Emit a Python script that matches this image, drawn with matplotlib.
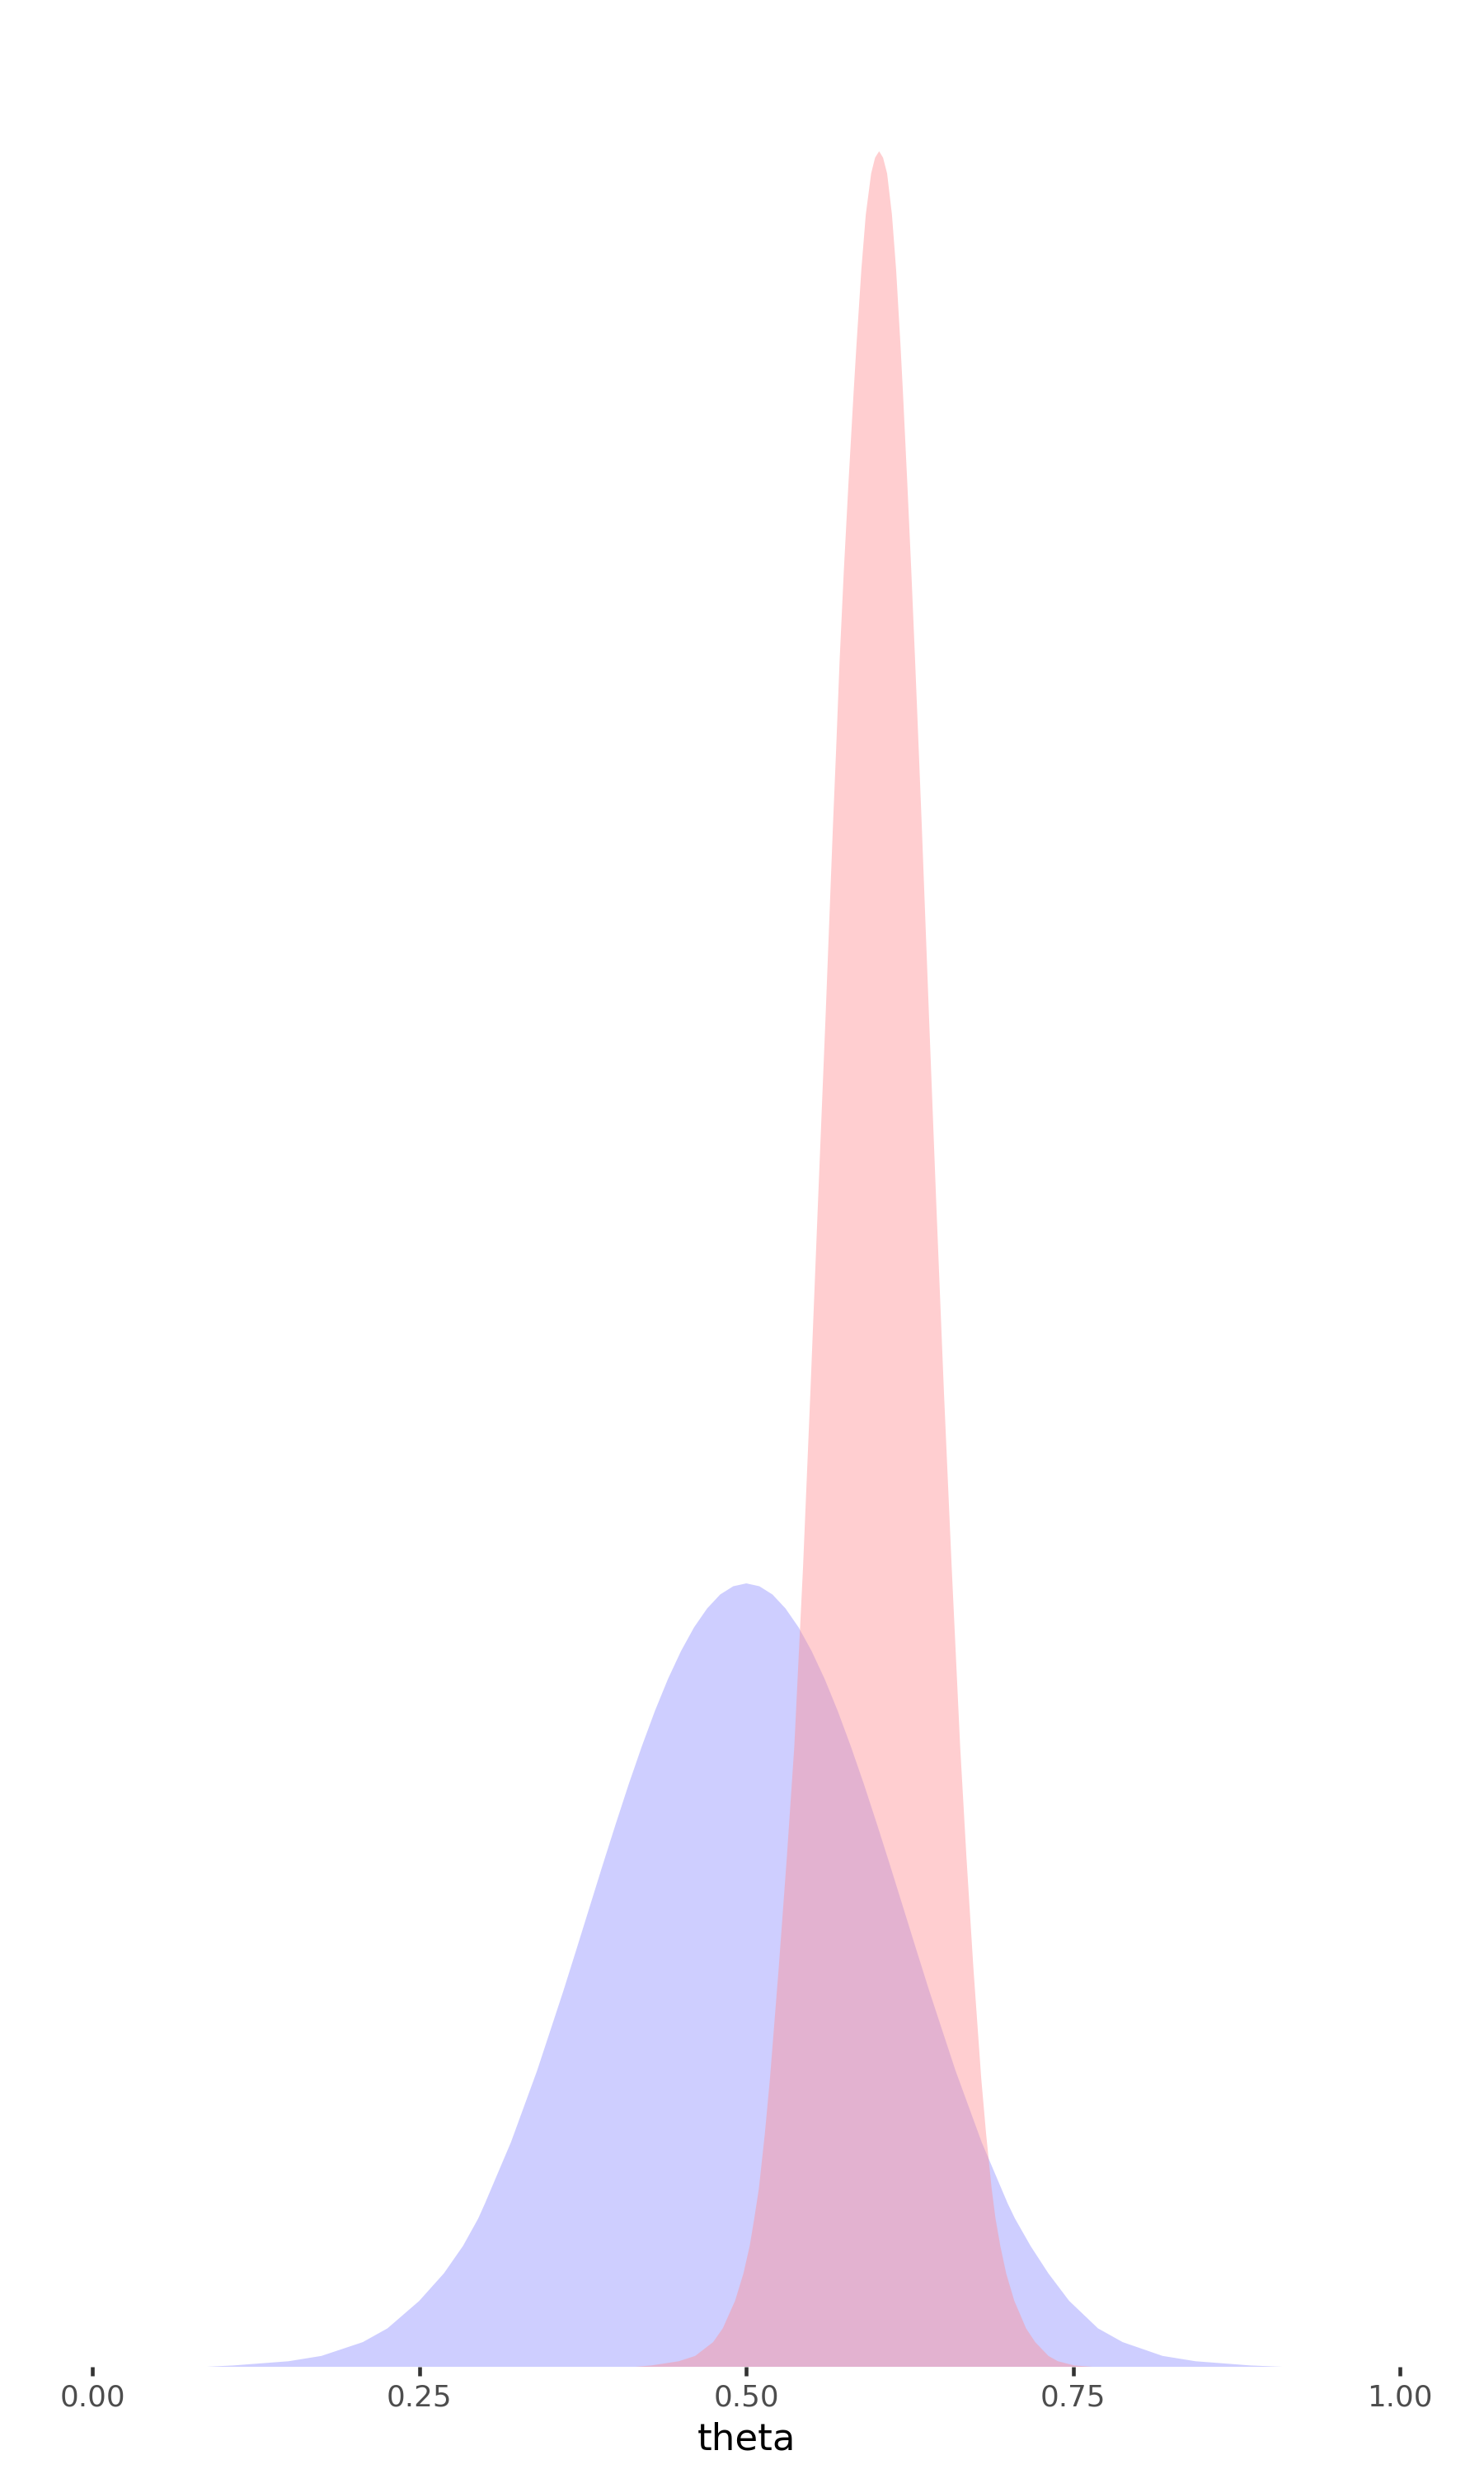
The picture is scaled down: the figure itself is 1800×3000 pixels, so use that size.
import matplotlib
matplotlib.use("Agg")
import matplotlib.pyplot as plt

# ---- data ----
# prior (blue) density
theta_prior = [0.087, 0.1075, 0.1498, 0.175, 0.2066, 0.2255, 0.2497, 0.2686, 0.2833,
               0.2949, 0.30, 0.32, 0.34, 0.36, 0.37, 0.38, 0.39, 0.40, 0.41, 0.42,
               0.43, 0.44, 0.45, 0.46, 0.47, 0.48, 0.49, 0.50, 0.51, 0.52, 0.53,
               0.54, 0.55, 0.56, 0.57, 0.58, 0.59, 0.60, 0.61, 0.62, 0.63, 0.64,
               0.66, 0.68, 0.70, 0.7055, 0.7174, 0.7311, 0.7469, 0.7690, 0.7879,
               0.8184, 0.8436, 0.8857, 0.910]
density_prior = [0.000, 0.006, 0.025, 0.049, 0.111, 0.173, 0.296, 0.420, 0.544,
                 0.667, 0.734, 1.011, 1.333, 1.690, 1.877, 2.066, 2.255, 2.440, 2.620, 2.790,
                 2.949, 3.093, 3.219, 3.326, 3.411, 3.474, 3.511, 3.524, 3.511, 3.474, 3.411,
                 3.326, 3.219, 3.093, 2.949, 2.790, 2.620, 2.440, 2.255, 2.066, 1.877, 1.690,
                 1.333, 1.011, 0.734, 0.667, 0.544, 0.420, 0.297, 0.173, 0.111,
                 0.049, 0.025, 0.006, 0.000]

# posterior (red) density
theta_post = [0.4150, 0.4273, 0.4483, 0.4609, 0.4746, 0.4820, 0.4914, 0.4978, 0.5026,
              0.5061, 0.5096, 0.5142, 0.5181, 0.5248, 0.5310, 0.5367, 0.5434, 0.5490,
              0.5548, 0.5607, 0.5663, 0.5687, 0.5714, 0.5746, 0.5782, 0.5821, 0.5842,
              0.5880, 0.5914, 0.5955, 0.5985, 0.6016, 0.6046, 0.6077, 0.6114, 0.6146,
              0.6180, 0.6198, 0.6231, 0.6262, 0.6291, 0.6319, 0.6342, 0.6397, 0.6453,
              0.6512, 0.6571, 0.6636, 0.6684, 0.6737, 0.6797, 0.6834, 0.6877, 0.6906,
              0.6943, 0.6988, 0.7050, 0.7140, 0.7210, 0.7311, 0.7384, 0.7510, 0.7650]
density_post = [0.000, 0.006, 0.025, 0.049, 0.111, 0.173, 0.297, 0.420, 0.544,
                0.668, 0.801, 1.050, 1.298, 1.795, 2.292, 2.789, 3.598, 4.381,
                5.234, 6.083, 6.936, 7.274, 7.678, 8.079, 8.479, 8.883, 9.088,
                9.433, 9.681, 9.866, 9.937, 9.966, 9.937, 9.866, 9.681, 9.433,
                9.088, 8.883, 8.479, 8.079, 7.678, 7.274, 6.936, 6.083, 5.234,
                4.381, 3.598, 2.789, 2.292, 1.795, 1.298, 1.050, 0.801, 0.668,
                0.544, 0.420, 0.297, 0.173, 0.111, 0.049, 0.025, 0.006, 0.000]

x_ticks = [0.00, 0.25, 0.50, 0.75, 1.00]
x_tick_labels = ["0.00", "0.25", "0.50", "0.75", "1.00"]
x_title = "theta"

# ---- drawing ----
plt.rcParams['font.family'] = ['DejaVu Sans']
fig = plt.figure(figsize=(6, 10), dpi=300)
fig.patch.set_facecolor("white")
ax = fig.add_axes([0.01844, 0.04333, 0.96894, 0.94667])
ax.set_facecolor("white")

ax.fill_between(theta_prior, 0, density_prior, facecolor="#CECEFF",
                edgecolor="none", linewidth=0)
ax.fill_between(theta_post, 0, density_post, facecolor=(1.0, 0.565, 0.58),
                alpha=0.44, edgecolor="none", linewidth=0)

ax.set_xlim(-0.05, 1.05)
ax.set_ylim(0, max(density_post) * 1.0571)

for s in ax.spines.values():
    s.set_visible(False)
ax.set_yticks([])
ax.set_xticks(x_ticks)
ax.set_xticklabels(x_tick_labels)
ax.tick_params(axis="x", length=2.75, width=1.1, color="#333333",
               labelsize=8.6, labelcolor="#4D4D4D", pad=2.2)
ax.set_xlabel(x_title, fontsize=10.8, color="black", labelpad=2.8)

fig.savefig("out.png", dpi=300, facecolor="white")
